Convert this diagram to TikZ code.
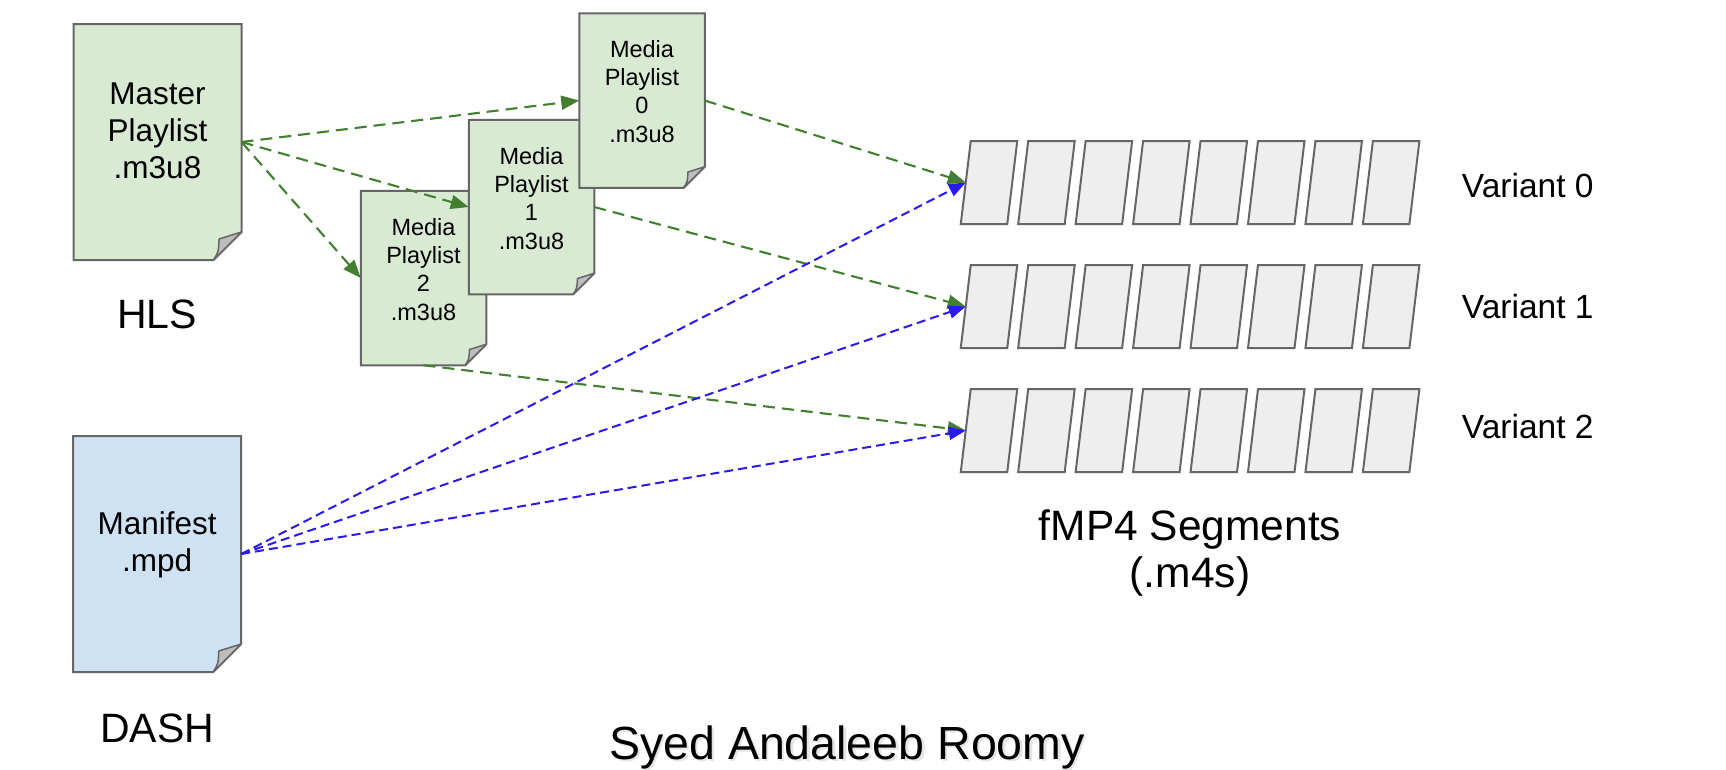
\documentclass[tikz,border=0pt]{standalone}
\usepackage{fontspec}
\setmainfont{Liberation Sans}
\usetikzlibrary{arrows.meta}
\definecolor{docgreen}{HTML}{D9EAD3}
\definecolor{docblue}{HTML}{CFE2F3}
\definecolor{segfill}{HTML}{EEEEEE}
\definecolor{edgegray}{HTML}{666666}
\definecolor{foldgray}{HTML}{BDBDBD}
\definecolor{arrgreen}{HTML}{437F30}
\definecolor{arrblue}{HTML}{2A1AEE}
\newcommand\docshape[3]{%
  \filldraw[fill=#2, draw=edgegray, line width=2pt, line join=miter]
    (#1.north west) -- (#1.north east) -- ([yshift=#3pt]#1.south east)
    -- ([xshift=-#3pt]#1.south east) -- (#1.south west) -- cycle;
  \filldraw[fill=foldgray, draw=edgegray, line width=1.5pt, line join=round]
    ([xshift=-#3pt]#1.south east)
    .. controls ([xshift=-0.82*#3pt, yshift=0.3*#3pt]#1.south east) .. ([xshift=-0.8*#3pt, yshift=0.75*#3pt]#1.south east)
    .. controls ([xshift=-0.4*#3pt, yshift=0.85*#3pt]#1.south east) .. ([yshift=#3pt]#1.south east) -- cycle;
}
\begin{document}
\begin{tikzpicture}[x=1pt,y=-1pt,
  frame/.style={rectangle, inner sep=0pt, outer sep=0pt, minimum width=#1},
  bigdoc/.style={frame=168pt, minimum height=236pt},
  smalldoc/.style={frame=125.5pt, minimum height=174.5pt},
  segbox/.style={frame=46.5pt, minimum height=83pt},
  segshape/.style={fill=segfill, draw=edgegray, line width=2pt, line join=miter},
  bigtext/.style={anchor=base, align=center, inner sep=0pt, font=\fontsize{31.5}{37}\selectfont},
  smalltext/.style={anchor=base, align=center, inner sep=0pt, font=\fontsize{23.5}{28.3}\selectfont},
  label/.style={anchor=base, inner sep=0pt, font=\fontsize{41}{41}\selectfont},
  varlabel/.style={anchor=base west, inner sep=0pt, font=\fontsize{33.5}{33.5}\selectfont},
  garrow/.style={draw=arrgreen, line width=2.1pt, dash pattern=on 12pt off 7pt, -{Triangle[length=18pt,width=14pt]}},
  barrow/.style={draw=arrblue, line width=2pt, dash pattern=on 9pt off 5pt, -{Triangle[length=17pt,width=13pt]}}
]
\fill[white] (0,0) rectangle (1726,769);
\useasboundingbox (0,0) rectangle (1726,769);

% big documents (text anchor = baseline of last line)
\node[bigdoc] (master) at (157.5,142) {};
\docshape{master}{docgreen}{28}
\node[bigtext] (mastertxt) at (157.5,178) {Master\\Playlist\\.m3u8};
\node[label] (hls) at (157,328) {HLS};

\node[bigdoc] (manifest) at (157.2,554) {};
\docshape{manifest}{docblue}{28}
\node[bigtext] (manifesttxt) at (157.2,571) {Manifest\\.mpd};
\node[label] (dash) at (157.3,742.5) {DASH};

% media playlists (2 bottom, 0 top)
\node[smalldoc] (mp2) at (423.5,278) {};
\docshape{mp2}{docgreen}{21}
\node[smalltext] (mp2txt) at (423.5,320) {Media\\Playlist\\2\\.m3u8};

\node[smalldoc] (mp1) at (531.5,207) {};
\docshape{mp1}{docgreen}{21}
\node[smalltext] (mp1txt) at (531.5,249) {Media\\Playlist\\1\\.m3u8};

\node[smalldoc] (mp0) at (642,100.5) {};
\docshape{mp0}{docgreen}{21}
\node[smalltext] (mp0txt) at (642,142) {Media\\Playlist\\0\\.m3u8};

% segments
\foreach \r/\top in {0/141,1/265,2/389} {
  \foreach \i in {0,...,7} {
    \node[segbox] (s\r-\i) at ({989+57.45*\i},{\top+41.5}) {};
    \filldraw[segshape] ([xshift=5pt]s\r-\i.north west) -- ([xshift=5pt]s\r-\i.north east)
      -- ([xshift=-5pt]s\r-\i.south east) -- ([xshift=-5pt]s\r-\i.south west) -- cycle;
  }
}

\node[varlabel] (v0) at (1461.7,197.3) {Variant 0};
\node[varlabel] (v1) at (1461.7,318.3) {Variant 1};
\node[varlabel] (v2) at (1461.7,438.3) {Variant 2};

\node[anchor=base, align=center, inner sep=0pt, font=\fontsize{42.5}{47}\selectfont] (fmp4) at (1190,587.5) {fMP4 Segments\\(.m4s)};

% green connectors
\draw[garrow] (master.east) -- (mp0.west);
\draw[garrow] (master.east) -- (mp1.west);
\draw[garrow] (master.east) -- (mp2.west);
\draw[garrow] (mp0.east) -- (s0-0.west);
\draw[garrow] (mp1.east) -- (s1-0.west);
\draw[garrow] (mp2.south) -- (s2-0.west);

% blue connectors
\draw[barrow] (manifest.east) -- (s0-0.west);
\draw[barrow] (manifest.east) -- (s1-0.west);
\draw[barrow] (manifest.east) -- (s2-0.west);

% author (soft shadow + text)
\node[anchor=base, inner sep=0pt, font=\fontsize{46.5}{46.5}\selectfont, text=black, opacity=0.10] (authorshadow) at (849.5,761.5) {Syed Andaleeb Roomy};
\node[anchor=base, inner sep=0pt, font=\fontsize{46.5}{46.5}\selectfont] (author) at (847,759) {Syed Andaleeb Roomy};
\end{tikzpicture}
\end{document}
